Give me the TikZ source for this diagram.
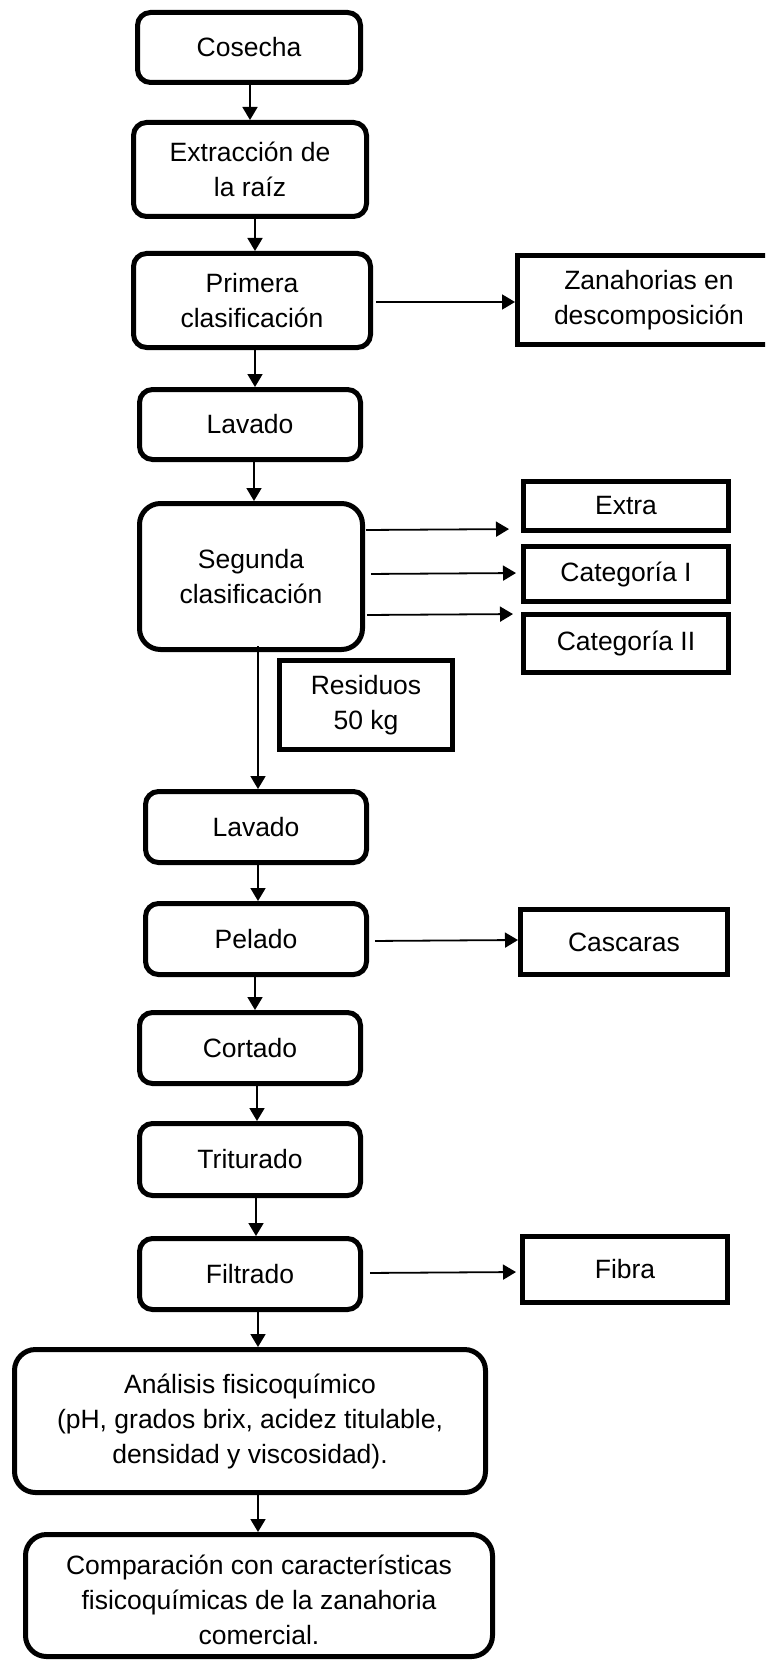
\documentclass[tikz,border=0pt]{standalone}
\usepackage{fontspec}
\setmainfont{Liberation Sans}
\usetikzlibrary{arrows.meta}
\begin{document}
\begin{tikzpicture}[x=1pt,y=-1pt,
  txt/.style={font=\fontsize{26.5}{35}\selectfont, align=center, inner sep=0pt},
  stage/.style={txt, draw, line width=5pt, rounded corners=13pt},
  bigstage/.style={stage, rounded corners=21pt},
  outbox/.style={txt, draw, line width=5pt},
  arr/.style={line width=1.8pt, -{Triangle[length=13pt,width=15pt]}}
]
\useasboundingbox (0,0) rectangle (765,1661);
\clip (0,0) rectangle (765,1661);
\fill[white] (0,0) rectangle (765,1661);

% main process column
\node[stage, minimum width=223pt, minimum height=70pt] (cosecha) at (249,47.5) {Cosecha};
\node[stage, minimum width=233pt, minimum height=94pt] (extr) at (250,169.5) {Extracción de\\la raíz};
\node[stage, minimum width=237pt, minimum height=94pt] (prim) at (252,300.5) {Primera\\clasificación};
\node[stage, minimum width=221pt, minimum height=70pt] (lav1) at (250,424.5) {Lavado};
\node[bigstage, minimum width=223pt, minimum height=146pt] (seg) at (251,576.5) {Segunda\\clasificación};
\node[stage, minimum width=221pt, minimum height=71pt] (lav2) at (256,827) {Lavado};
\node[stage, minimum width=221pt, minimum height=71pt] (pel) at (256,939) {Pelado};
\node[stage, minimum width=221pt, minimum height=71pt] (cort) at (250,1048) {Cortado};
\node[stage, minimum width=221pt, minimum height=72pt] (trit) at (250,1159.5) {Triturado};
\node[stage, minimum width=221pt, minimum height=71pt] (filt) at (250,1274) {Filtrado};
\node[bigstage, minimum width=471pt, minimum height=143pt] (anal) at (250,1421)
  {Análisis fisicoquímico\\(pH, grados brix, acidez titulable,\\densidad y viscosidad).};
\node[bigstage, minimum width=467pt, minimum height=122pt] (comp) at (259,1595.5)
  {\rule{0pt}{28pt}Comparación con características\\fisicoquímicas de la zanahoria\\comercial.};

% side outputs
\node[outbox, minimum width=263pt, minimum height=89pt] (zan) at (649,300) {Zanahorias en\\descomposición};
\node[outbox, minimum width=205pt, minimum height=49pt] (extra) at (626,506) {Extra};
\node[outbox, minimum width=205pt, minimum height=55pt] (cat1) at (626,574) {Categoría I};
\node[outbox, minimum width=205pt, minimum height=58pt] (cat2) at (626,643.5) {Categoría II};
\node[outbox, minimum width=173pt, minimum height=89pt] (res) at (366,705) {Residuos\\50 kg};
\node[outbox, minimum width=207pt, minimum height=65pt] (casc) at (624,942) {Cascaras};
\node[outbox, minimum width=205pt, minimum height=66pt] (fibra) at (625,1269.5) {Fibra};

% vertical flow
\draw[arr] ([xshift=1pt]cosecha.south) -- ([xshift=0pt]extr.north);
\draw[arr] ([xshift=5pt,yshift=4pt]extr.south) -- ([xshift=3pt]prim.north);
\draw[arr] ([xshift=3pt]prim.south) -- ([xshift=5pt]lav1.north);
\draw[arr] ([xshift=4pt]lav1.south) -- ([xshift=3pt]seg.north);
\draw[arr] ([xshift=7pt,yshift=6pt]seg.south) -- ([xshift=2pt]lav2.north);
\draw[arr] ([xshift=2pt]lav2.south) -- ([xshift=2pt]pel.north);
\draw[arr] ([xshift=-1pt]pel.south) -- ([xshift=5pt]cort.north);
\draw[arr] ([xshift=7pt]cort.south) -- ([xshift=7pt]trit.north);
\draw[arr] ([xshift=6pt]trit.south) -- ([xshift=6pt]filt.north);
\draw[arr] ([xshift=8pt]filt.south) -- ([xshift=8pt]anal.north);
\draw[arr] ([xshift=8pt]anal.south) -- ([xshift=-1pt]comp.north);

% branches to the side outputs
\draw[arr, shorten <=3pt] ([yshift=-1.5pt]prim.east) -- ([yshift=-2pt]zan.west);
\draw[arr, shorten <=1pt, shorten >=12pt] ([yshift=46.5pt]seg.east) -- ([yshift=-23pt]extra.west);
\draw[arr, shorten <=6pt, shorten >=5pt] ([yshift=2.5pt]seg.east) -- ([yshift=1pt]cat1.west);
\draw[arr, shorten <=2pt, shorten >=8pt] ([yshift=-38.5pt]seg.east) -- ([yshift=29.5pt]cat2.west);
\draw[arr, shorten <=6pt] ([yshift=-2pt]pel.east) -- ([yshift=2pt]casc.west);
\draw[arr, shorten <=7pt, shorten >=4pt] ([yshift=1pt]filt.east) -- ([yshift=-2.5pt]fibra.west);
\end{tikzpicture}
\end{document}
